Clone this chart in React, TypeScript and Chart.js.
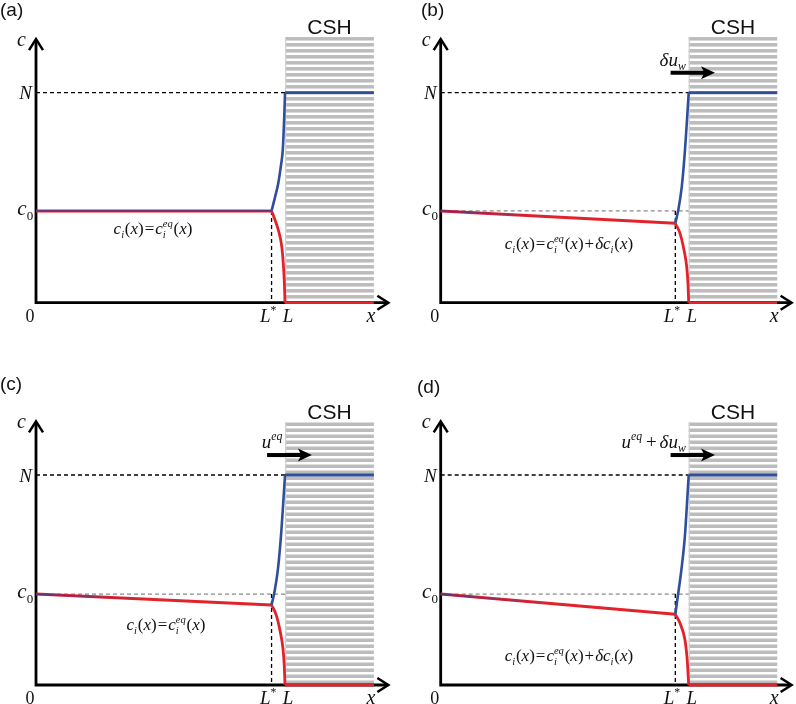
import React, { useEffect, useRef } from "react";
import { Chart, registerables } from "chart.js";
Chart.register(...registerables);

// ---------------- data (x in units of L, c in units of N) ----------------
const PANEL_TAGS = ["(a)", "(b)", "(c)", "(d)"];
const L_STAR = 0.946;
const L_WALL = 1.0;
const HATCH_END = 1.357;
const N_LEVEL = 1.0;
const X_MAX = 1.42;
const Y_MAX = 1.34;
const X_TIP = 1.415;
const Y_TIP = 1.255;
const X_LABEL_AT = 1.345;

const C0 = [0.437, 0.437, 0.433, 0.433];
const C_AT_LSTAR = [0.437, 0.378, 0.381, 0.337];
const HATCH_TOP = [1.265, 1.265, 1.25, 1.25];

const RED_FRONT_X_A = [0.946, 0.96, 0.973, 0.987, 0.993, 0.997, 1.0];
const RED_FRONT_Y_A = [0.437, 0.394, 0.347, 0.267, 0.188, 0.108, 0];
const BLUE_FRONT_X_A = [0.946, 0.96, 0.973, 0.984, 0.991, 0.997, 1.0];
const BLUE_FRONT_Y_A = [0.437, 0.503, 0.569, 0.656, 0.727, 0.886, 1.0];

const RED_FRONT_X_B = [0.946, 0.965, 0.981, 0.992, 0.997, 1.0];
const RED_FRONT_Y_B = [0.378, 0.33, 0.251, 0.171, 0.092, 0];
const BLUE_FRONT_X_B = [0.946, 0.958, 0.972, 0.985, 0.994, 1.0];
const BLUE_FRONT_Y_B = [0.378, 0.441, 0.552, 0.727, 0.886, 1.0];

const RED_FRONT_X_C = [0.946, 0.965, 0.981, 0.992, 0.997, 1.0];
const RED_FRONT_Y_C = [0.381, 0.333, 0.253, 0.172, 0.093, 0];
const BLUE_FRONT_X_C = [0.946, 0.958, 0.972, 0.985, 0.994, 1.0];
const BLUE_FRONT_Y_C = [0.381, 0.445, 0.555, 0.728, 0.886, 1.0];

const RED_FRONT_X_D = [0.946, 0.965, 0.985, 0.994, 1.0];
const RED_FRONT_Y_D = [0.337, 0.294, 0.214, 0.119, 0];
const BLUE_FRONT_X_D = [0.946, 0.954, 0.972, 0.985, 0.994, 1.0];
const BLUE_FRONT_Y_D = [0.337, 0.405, 0.563, 0.714, 0.881, 1.0];

const RED_FRONT_X = [RED_FRONT_X_A, RED_FRONT_X_B, RED_FRONT_X_C, RED_FRONT_X_D];
const RED_FRONT_Y = [RED_FRONT_Y_A, RED_FRONT_Y_B, RED_FRONT_Y_C, RED_FRONT_Y_D];
const BLUE_FRONT_X = [BLUE_FRONT_X_A, BLUE_FRONT_X_B, BLUE_FRONT_X_C, BLUE_FRONT_X_D];
const BLUE_FRONT_Y = [BLUE_FRONT_Y_A, BLUE_FRONT_Y_B, BLUE_FRONT_Y_C, BLUE_FRONT_Y_D];

// velocity arrows (start, end in x units), level in c units
const ARROW_X0 = [null, 0.927, 0.928, 0.927];
const ARROW_X1 = [null, 1.106, 1.108, 1.106];
const ARROW_Y = 1.095;

// formula anchors (x centre, baseline) in data units
const FORMULA_X = [0.47, 0.517, 0.522, 0.517];
const FORMULA_Y = [0.325, 0.255, 0.262, 0.115];

// ---------------- layout / style ----------------
const GEOM = [
  { left: 0, top: 0, w: 400, h: 360, x0: 36, xu: 249, y0: 302.7, yu: 210, tag: [0, 16] },
  { left: 400, top: 0, w: 396, h: 360, x0: 440.7, xu: 248, y0: 302.7, yu: 210, tag: [421, 16] },
  { left: 0, top: 360, w: 400, h: 344, x0: 36, xu: 249, y0: 685, yu: 210, tag: [0, 390] },
  { left: 400, top: 360, w: 396, h: 344, x0: 440.7, xu: 248, y0: 685, yu: 210, tag: [417, 393] },
];
const RED = "#e3232c";
const BLUE = "#2f4f9d";
const SERIF = '"Liberation Serif", "Times New Roman", serif';
const SANS = '"Liberation Sans", Arial, sans-serif';

type Seg = { t?: string; it?: boolean; sub?: string; sup?: string; gap?: number; up?: boolean };

const FORMULA_EQ: Seg[] = [
  { t: "c", it: true }, { sub: "i" }, { t: "(" }, { t: "x", it: true }, { t: ")" },
  { gap: 1 }, { t: "=" }, { gap: 1 },
  { t: "c", it: true }, { sub: "i", sup: "eq" }, { t: "(" }, { t: "x", it: true }, { t: ")" },
];
const FORMULA_PERT: Seg[] = [
  ...FORMULA_EQ,
  { gap: 1 }, { t: "+" }, { gap: 1 },
  { t: "δ", it: true }, { t: "c", it: true }, { sub: "i" }, { t: "(" }, { t: "x", it: true }, { t: ")" },
];
const FORMULAS = [FORMULA_EQ, FORMULA_PERT, FORMULA_EQ, FORMULA_PERT];
const ARROW_LABELS: (Seg[] | null)[] = [
  null,
  [{ t: "δ", it: true }, { t: "u", it: true }, { sub: "w" }],
  [{ t: "u", it: true }, { sup: "eq" }],
  [{ t: "u", it: true }, { sup: "eq" }, { gap: 3 }, { t: "+" }, { gap: 3 }, { t: "δ", it: true }, { t: "u", it: true }, { sub: "w" }],
];

function fontOf(size: number, it: boolean) {
  return `${it ? "italic " : ""}${size}px ${SERIF}`;
}
function measureSeg(ctx: CanvasRenderingContext2D, s: Seg, size: number) {
  if (s.gap) return s.gap;
  if (s.t !== undefined) {
    ctx.font = fontOf(size, !!s.it);
    return ctx.measureText(s.t).width;
  }
  ctx.font = fontOf(size * 0.62, !s.up);
  const w1 = s.sub ? ctx.measureText(s.sub).width : 0;
  const w2 = s.sup ? ctx.measureText(s.sup).width : 0;
  return Math.max(w1, w2) + 0.8;
}
function drawRich(ctx: CanvasRenderingContext2D, segs: Seg[], x: number, y: number, size: number, align: string) {
  const widths = segs.map((s) => measureSeg(ctx, s, size));
  const total = widths.reduce((a, b) => a + b, 0);
  let cx = align === "left" ? x : align === "center" ? x - total / 2 : x - total;
  ctx.textAlign = "left";
  ctx.textBaseline = "alphabetic";
  segs.forEach((s, i) => {
    if (s.t !== undefined) {
      ctx.font = fontOf(size, !!s.it);
      ctx.fillText(s.t, cx, y);
    } else if (!s.gap) {
      ctx.font = fontOf(size * 0.62, !s.up);
      if (s.sub) ctx.fillText(s.sub, cx, y + size * 0.22);
      if (s.sup) ctx.fillText(s.sup, cx, y - size * 0.42);
    }
    cx += widths[i];
  });
}

const pts = (xs: number[], ys: number[]) => xs.map((x, i) => ({ x, y: ys[i] }));

function buildConfig(idx: number): any {
  const g = GEOM[idx];
  const lx0 = g.x0 - g.left;
  const ly0 = g.y0 - g.top;
  const padding = {
    left: lx0,
    right: g.w - (lx0 + X_MAX * g.xu),
    top: ly0 - Y_MAX * g.yu,
    bottom: g.h - ly0,
  };
  const c0 = C0[idx];
  const cs = C_AT_LSTAR[idx];
  const base = { pointRadius: 0, clip: false as any, fill: false, tension: 0 };
  const datasets: any[] = [];
  // dashed N level
  datasets.push({ ...base, data: [{ x: 0, y: N_LEVEL }, { x: L_WALL, y: N_LEVEL }], borderColor: "#000", borderWidth: 1.3, borderDash: [4, 3], order: 20 });
  if (idx > 0) {
    datasets.push({ ...base, data: [{ x: 0, y: c0 }, { x: L_WALL, y: c0 }], borderColor: "#8a8a8a", borderWidth: 1.2, borderDash: [4, 3], order: 19 });
  }
  datasets.push({ ...base, data: [{ x: L_STAR, y: c0 }, { x: L_STAR, y: 0 }], borderColor: "#000", borderWidth: 1.3, borderDash: [4, 3], order: 18 });
  // red concentration
  datasets.push({ ...base, data: [{ x: 0, y: c0 }, { x: L_STAR, y: cs }], borderColor: RED, borderWidth: 3, order: 10 });
  datasets.push({ ...base, data: pts(RED_FRONT_X[idx], RED_FRONT_Y[idx]), borderColor: RED, borderWidth: 2.8, cubicInterpolationMode: "monotone", order: 9 });
  datasets.push({ ...base, data: [{ x: L_WALL, y: 0 }, { x: HATCH_END, y: 0 }], borderColor: RED, borderWidth: 2.8, order: 8 });
  // blue overlay on the bulk line
  datasets.push({
    ...base,
    data: [{ x: 0, y: c0 }, { x: L_STAR, y: cs }],
    borderWidth: 1.8,
    order: 6,
    borderColor: (ctx: any) => {
      if (idx === 0) return "rgba(75,55,145,0.75)";
      const ch = ctx.chart;
      const xs = ch.scales && ch.scales.x;
      let p0 = xs ? xs.getPixelForValue(0) : NaN;
      let p1 = xs ? xs.getPixelForValue(0.45) : NaN;
      if (!isFinite(p0) || !isFinite(p1)) {
        p0 = lx0;
        p1 = lx0 + 0.45 * g.xu;
      }
      const gr = ch.ctx.createLinearGradient(p0, 0, p1, 0);
      gr.addColorStop(0, "rgba(70,50,140,0.85)");
      gr.addColorStop(1, "rgba(70,50,140,0)");
      return gr;
    },
  });
  // blue solid
  datasets.push({ ...base, data: pts(BLUE_FRONT_X[idx], BLUE_FRONT_Y[idx]), borderColor: BLUE, borderWidth: 2.6, cubicInterpolationMode: "monotone", order: 4 });
  datasets.push({ ...base, data: [{ x: L_WALL, y: N_LEVEL }, { x: HATCH_END, y: N_LEVEL }], borderColor: BLUE, borderWidth: 2.8, order: 3 });

  const plugin = {
    id: "schematic" + idx,
    beforeDatasetsDraw(chart: any) {
      const { ctx } = chart;
      const x = chart.scales.x;
      const y = chart.scales.y;
      ctx.save();
      const hx1 = x.getPixelForValue(L_WALL);
      const hx2 = x.getPixelForValue(HATCH_END);
      const hy1 = y.getPixelForValue(HATCH_TOP[idx]);
      const hy2 = y.getPixelForValue(0);
      ctx.fillStyle = "#bcbcbc";
      for (let yy = hy1; yy < hy2 - 1; yy += 6) ctx.fillRect(hx1, yy, hx2 - hx1, Math.min(3.5, hy2 - yy));
      ctx.fillStyle = "#d0d0d0";
      ctx.fillRect(hx1, hy1, 1.2, hy2 - hy1);
      // axes
      const ox = x.getPixelForValue(0);
      const oy = y.getPixelForValue(0);
      const tx = x.getPixelForValue(X_TIP);
      const ty = y.getPixelForValue(Y_TIP);
      ctx.strokeStyle = "#000";
      ctx.lineWidth = 2.8;
      ctx.lineJoin = "miter";
      ctx.beginPath();
      ctx.moveTo(ox, ty + 1);
      ctx.lineTo(ox, oy);
      ctx.lineTo(tx - 1, oy);
      ctx.stroke();
      ctx.lineWidth = 2.5;
      ctx.beginPath();
      ctx.moveTo(ox - 7, ty + 11);
      ctx.lineTo(ox, ty);
      ctx.lineTo(ox + 7, ty + 11);
      ctx.stroke();
      ctx.beginPath();
      ctx.moveTo(tx - 11, oy - 7);
      ctx.lineTo(tx, oy);
      ctx.lineTo(tx - 11, oy + 7);
      ctx.stroke();
      ctx.restore();
    },
    afterDatasetsDraw(chart: any) {
      const { ctx } = chart;
      const x = chart.scales.x;
      const y = chart.scales.y;
      const ox = x.getPixelForValue(0);
      const oy = y.getPixelForValue(0);
      ctx.save();
      ctx.fillStyle = "#111";
      // panel tag
      ctx.font = `19px ${SANS}`;
      ctx.textAlign = "left";
      ctx.textBaseline = "alphabetic";
      ctx.fillText(PANEL_TAGS[idx], g.tag[0] - g.left, g.tag[1] - g.top);
      // CSH
      ctx.font = `21px ${SANS}`;
      ctx.textAlign = "center";
      ctx.fillText("CSH", (x.getPixelForValue(L_WALL) + x.getPixelForValue(HATCH_END)) / 2, y.getPixelForValue(HATCH_TOP[idx]) - 3.5);
      // axis labels
      const sz = 19;
      drawRich(ctx, [{ t: "c", it: true }], ox - 10, y.getPixelForValue(Y_TIP) + 7, sz + 1, "right");
      drawRich(ctx, [{ t: "N", it: true }], ox - 4, y.getPixelForValue(N_LEVEL) + 6.5, sz, "right");
      drawRich(ctx, [{ t: "c", it: true }, { sub: "0", up: true }], ox - 2, y.getPixelForValue(C0[idx]) + 4, sz + 2, "right");
      drawRich(ctx, [{ t: "0" }], ox - 6, oy + 19, sz - 1, "center");
      drawRich(ctx, [{ t: "L", it: true }, { sup: "*", up: true }], x.getPixelForValue(L_STAR) - 3, oy + 19, sz, "center");
      drawRich(ctx, [{ t: "L", it: true }], x.getPixelForValue(L_WALL) + 3, oy + 19, sz, "center");
      drawRich(ctx, [{ t: "x", it: true }], x.getPixelForValue(X_LABEL_AT), oy + 19, sz + 1, "center");
      // formula
      drawRich(ctx, FORMULAS[idx], x.getPixelForValue(FORMULA_X[idx]), y.getPixelForValue(FORMULA_Y[idx]), 17, "center");
      // velocity arrow
      const ax0v = ARROW_X0[idx];
      const ax1v = ARROW_X1[idx];
      if (ax0v !== null && ax1v !== null) {
        const ax0 = x.getPixelForValue(ax0v);
        const ax1 = x.getPixelForValue(ax1v);
        const ay = y.getPixelForValue(ARROW_Y);
        ctx.fillStyle = "#000";
        ctx.fillRect(ax0, ay - 2, ax1 - ax0 - 9, 4);
        ctx.beginPath();
        ctx.moveTo(ax1, ay);
        ctx.lineTo(ax1 - 14, ay - 6.5);
        ctx.lineTo(ax1 - 10.5, ay);
        ctx.lineTo(ax1 - 14, ay + 6.5);
        ctx.closePath();
        ctx.fill();
        const lab = ARROW_LABELS[idx];
        if (lab) {
          ctx.fillStyle = "#111";
          drawRich(ctx, lab, ax0 + 16, ay - 7, 19, "right");
        }
      }
      ctx.restore();
    },
  };

  return {
    type: "line",
    data: { datasets },
    options: {
      animation: false,
      responsive: false,
      maintainAspectRatio: false,
      events: [],
      layout: { padding },
      plugins: { legend: { display: false }, tooltip: { enabled: false } },
      scales: {
        x: { type: "linear", min: 0, max: X_MAX, display: false },
        y: { type: "linear", min: 0, max: Y_MAX, display: false },
      },
      elements: { point: { radius: 0 }, line: { capBezierPoints: false } },
    },
    plugins: [plugin],
  };
}

function Panel({ idx }: { idx: number }) {
  const ref = useRef<HTMLCanvasElement>(null);
  useEffect(() => {
    if (!ref.current) return;
    const chart = new Chart(ref.current, buildConfig(idx));
    return () => chart.destroy();
  }, [idx]);
  const g = GEOM[idx];
  return (
    <canvas
      ref={ref}
      width={g.w}
      height={g.h}
      style={{ position: "absolute", left: g.left, top: g.top, width: g.w, height: g.h }}
    />
  );
}

export default function App() {
  return (
    <div style={{ position: "absolute", left: 0, top: 0, width: 796, height: 704, background: "#fff", overflow: "hidden" }}>
      {[0, 1, 2, 3].map((i) => (
        <Panel key={i} idx={i} />
      ))}
    </div>
  );
}
